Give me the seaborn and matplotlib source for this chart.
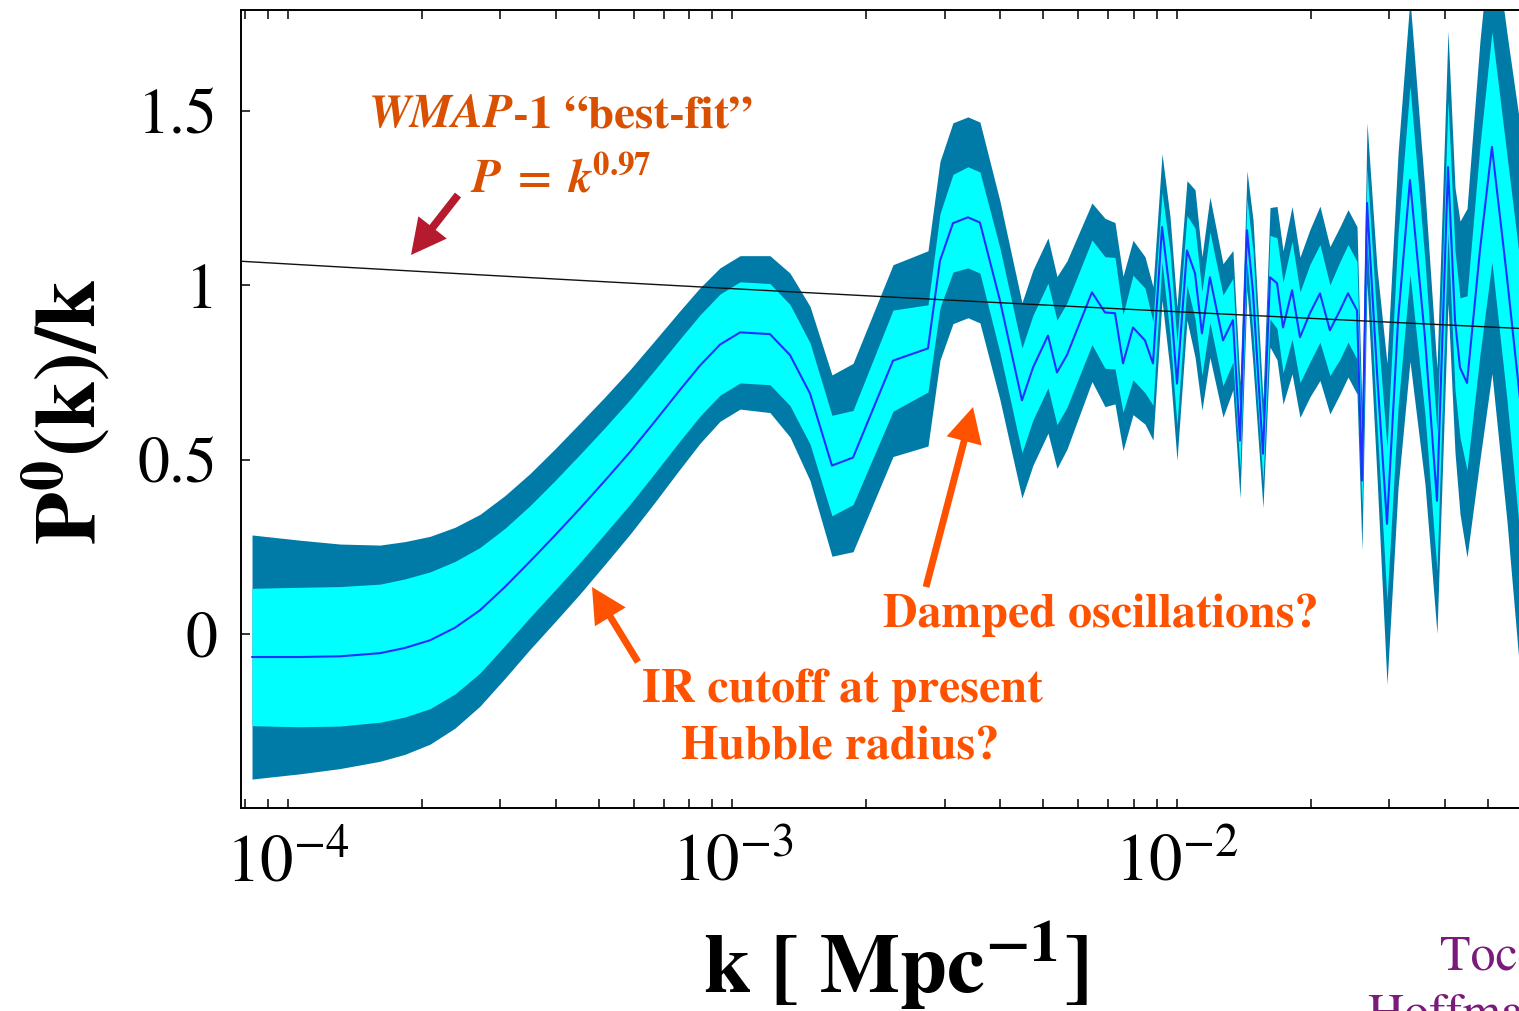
import numpy as np
import matplotlib
matplotlib.use("Agg")
import matplotlib.pyplot as plt
import seaborn as sns
from matplotlib.ticker import LogLocator, LogFormatterMathtext, FixedLocator, FixedFormatter, NullFormatter

# ---------------------------------------------------------------------------
# Reconstructed primordial spectrum P0(k)/k : median and 1-/2-sigma half widths
# ---------------------------------------------------------------------------
k_vals = [
    8.30e-5, 1.064e-4, 1.309e-4, 1.611e-4, 1.833e-4, 2.087e-4, 2.375e-4, 2.703e-4,
    3.077e-4, 3.503e-4, 3.988e-4, 4.538e-4, 5.166e-4, 5.880e-4, 6.692e-4, 7.618e-4,
    8.451e-4, 9.374e-4, 1.040e-3, 1.214e-3, 1.347e-3, 1.494e-3,
    1.674e-3, 1.867e-3, 2.297e-3, 2.753e-3, 2.929e-3, 3.133e-3, 3.386e-3, 3.603e-3,
    3.996e-3, 4.479e-3, 4.742e-3, 5.126e-3, 5.370e-3, 5.655e-3, 6.437e-3, 6.887e-3,
    7.253e-3, 7.560e-3, 7.962e-3, 8.472e-3, 8.830e-3, 9.254e-3, 9.645e-3, 1.000e-2,
    1.053e-2, 1.098e-2, 1.138e-2, 1.186e-2, 1.269e-2, 1.336e-2, 1.386e-2, 1.437e-2,
    1.483e-2, 1.561e-2, 1.619e-2, 1.679e-2, 1.732e-2, 1.815e-2, 1.891e-2, 1.991e-2,
    2.097e-2, 2.208e-2, 2.326e-2, 2.425e-2, 2.541e-2, 2.607e-2, 2.676e-2, 2.818e-2,
    2.968e-2, 3.143e-2, 3.343e-2, 3.613e-2, 3.845e-2, 4.071e-2, 4.221e-2, 4.332e-2,
    4.492e-2, 4.803e-2, 5.111e-2, 5.525e-2, 5.973e-2,
]
median_vals = [
    -0.066, -0.066, -0.064, -0.055, -0.040, -0.018, 0.018, 0.068,
    0.135, 0.208, 0.283, 0.360, 0.440, 0.522, 0.610, 0.700,
    0.770, 0.830, 0.865, 0.860, 0.800, 0.690,
    0.483, 0.506, 0.784, 0.819, 1.070, 1.178, 1.195, 1.180,
    0.957, 0.670, 0.764, 0.856, 0.750, 0.800, 0.980, 0.922,
    0.920, 0.776, 0.879, 0.842, 0.776, 1.167, 0.977, 0.718,
    1.100, 1.034, 0.862, 1.023, 0.842, 0.900, 0.555, 1.158,
    0.977, 0.517, 1.023, 1.006, 0.879, 0.986, 0.851, 0.920,
    0.977, 0.871, 0.928, 0.977, 0.928, 0.440, 1.236, 0.750,
    0.316, 0.900, 1.302, 0.850, 0.382, 1.339, 0.900, 0.764,
    0.720, 1.100, 1.397, 1.023, 0.620,
]
sigma1_vals = [
    0.197, 0.200, 0.200, 0.198, 0.198, 0.196, 0.190, 0.180,
    0.168, 0.160, 0.157, 0.155, 0.152, 0.150, 0.148, 0.146,
    0.145, 0.145, 0.145, 0.145, 0.145, 0.145,
    0.144, 0.135, 0.145, 0.125, 0.135, 0.140, 0.145, 0.145,
    0.150, 0.150, 0.150, 0.150, 0.150, 0.150, 0.150, 0.160,
    0.160, 0.140, 0.150, 0.150, 0.120, 0.100, 0.120, 0.120,
    0.100, 0.130, 0.120, 0.130, 0.130, 0.120, 0.080, 0.090,
    0.120, 0.080, 0.120, 0.130, 0.130, 0.140, 0.130, 0.140,
    0.140, 0.130, 0.140, 0.140, 0.140, 0.080, 0.100, 0.150,
    0.220, 0.250, 0.270, 0.220, 0.200, 0.190, 0.200, 0.200,
    0.250, 0.300, 0.330, 0.350, 0.400,
]
sigma2_vals = [
    0.350, 0.335, 0.322, 0.310, 0.305, 0.298, 0.288, 0.275,
    0.262, 0.252, 0.248, 0.245, 0.240, 0.236, 0.232, 0.227,
    0.223, 0.220, 0.220, 0.225, 0.235, 0.250,
    0.260, 0.270, 0.275, 0.280, 0.285, 0.288, 0.288, 0.288,
    0.285, 0.280, 0.280, 0.280, 0.275, 0.270, 0.256, 0.270,
    0.260, 0.250, 0.250, 0.240, 0.220, 0.210, 0.220, 0.220,
    0.200, 0.240, 0.220, 0.230, 0.220, 0.200, 0.165, 0.170,
    0.210, 0.155, 0.200, 0.220, 0.220, 0.240, 0.230, 0.240,
    0.250, 0.240, 0.240, 0.240, 0.240, 0.200, 0.230, 0.300,
    0.460, 0.480, 0.520, 0.420, 0.380, 0.390, 0.380, 0.420,
    0.500, 0.600, 0.650, 0.700, 0.800,
]

# WMAP-1 best-fit power law  P = A k^n  ->  P/k = A k^(n-1)
fit_index = 0.97
fit_amplitude = 0.805

y_ticks = [0, 0.5, 1, 1.5]
y_tick_labels = ["0", "0.5", "1", "1.5"]

# ---------------------------------------------------------------------------
W, H = 1519, 1011
DARK = "#007BA7"
CYAN = "#00FFFF"
BLUE = "#1E32FF"
ORANGE = "#FF5200"
BURNT = "#D85000"
CRIMSON = "#B51A2E"
PURPLE = "#7A1A7A"

sns.set_theme(style="ticks")
plt.rcParams["font.family"] = ["STIXGeneral", "DejaVu Serif"]
plt.rcParams["mathtext.fontset"] = "stix"

k = np.array(k_vals)
med = np.array(median_vals)
s1 = np.array(sigma1_vals)
s2 = np.array(sigma2_vals)

fig = plt.figure(figsize=(W / 100, H / 100), dpi=100)
ax = fig.add_axes([241 / W, (H - 808) / H, (1525 - 241) / W, 798 / H])

x_lo = 10 ** -4.1057
x_hi = 10 ** (-4 + (1525 - 288) / 444.5)

ax.fill_between(k, med - s2, med + s2, color=DARK, lw=0, zorder=1)
ax.fill_between(k, med - s1, med + s1, color=CYAN, lw=0, zorder=2)
sns.lineplot(x=k, y=med, ax=ax, color=BLUE, lw=1.5, estimator=None, zorder=3)

k_fit = np.geomspace(x_lo, x_hi, 60)
sns.lineplot(x=k_fit, y=fit_amplitude * k_fit ** (fit_index - 1), ax=ax,
             color="#111111", lw=1.0, estimator=None, zorder=4)

ax.set_xscale("log")
ax.set_xlim(x_lo, x_hi)
ax.set_ylim((634 - 808) / 348.7, (634 - 10) / 348.7)

ax.xaxis.set_major_locator(LogLocator(base=10, numticks=10))
ax.xaxis.set_major_formatter(LogFormatterMathtext())
ax.xaxis.set_minor_locator(LogLocator(base=10, subs=np.arange(2, 10), numticks=20))
ax.xaxis.set_minor_formatter(NullFormatter())
ax.yaxis.set_major_locator(FixedLocator(y_ticks))
ax.yaxis.set_major_formatter(FixedFormatter(y_tick_labels))

ax.tick_params(axis="x", which="both", direction="in", top=True, bottom=True,
               length=6.5, width=1.1, color="black")
ax.tick_params(axis="x", which="major", labelsize=48, pad=19, labelcolor="black")
ax.tick_params(axis="y", which="both", direction="in", left=True, right=False,
               length=6.5, width=1.1, labelsize=46, pad=17, color="black", labelcolor="black")

for side in ["left", "bottom", "top"]:
    ax.spines[side].set_linewidth(1.4)
    ax.spines[side].set_color("black")
ax.spines["right"].set_visible(False)
ax.set_xlabel("")
ax.set_ylabel("")
ax.grid(False)


def fx(x):
    return x / W


def fy(y):
    return 1 - y / H


# axis titles
fig.text(fx(68), fy(412), r"$\mathbf{P^{0}(k)/k}$", rotation=90,
         ha="center", va="center", fontsize=62, color="black")
fig.text(fx(895), fy(966), r"$\mathbf{k\ [\ Mpc^{-1}]}$",
         ha="center", va="center", fontsize=61, color="black")

# best-fit label
fig.text(fx(513), fy(127), "WMAP", ha="right", va="baseline", fontsize=34,
         fontstyle="italic", fontweight="bold", color=BURNT)
fig.text(fx(513), fy(127), "-1 \u201cbest-fit\u201d", ha="left", va="baseline",
         fontsize=34, fontweight="bold", color=BURNT)
fig.text(fx(561), fy(192), r"$\mathbfit{P}\;\mathbf{=}\;\mathbfit{k}^{\mathbf{0.97}}$",
         ha="center", va="baseline", fontsize=34, color=BURNT)

# feature labels
fig.text(fx(1101), fy(627), "Damped oscillations?", ha="center", va="baseline",
         fontsize=34.5, fontweight="bold", color=ORANGE)
fig.text(fx(842), fy(702), "IR cutoff at present", ha="center", va="baseline",
         fontsize=34.5, fontweight="bold", color=ORANGE)
fig.text(fx(840), fy(760), "Hubble radius?", ha="center", va="baseline",
         fontsize=34.5, fontweight="bold", color=ORANGE)

# reference credit
fig.text(fx(1440), fy(970), "Tocchini-Valentini,", ha="left", va="baseline",
         fontsize=36, color=PURPLE)
fig.text(fx(1368), fy(1028), "Hoffman & Silk (2006)", ha="left", va="baseline",
         fontsize=36, color=PURPLE)


def arrow(tail, tip, color, tail_w=0.25):
    ax.annotate("", xy=(tip[0], H - tip[1]), xytext=(tail[0], H - tail[1]),
                xycoords="figure pixels", textcoords="figure pixels",
                arrowprops=dict(arrowstyle=f"simple,head_length=1.26,head_width=1.3,tail_width={tail_w}",
                                color=color, lw=0, shrinkA=0, shrinkB=0,
                                mutation_scale=20),
                zorder=6)


arrow((458, 195), (411, 255), CRIMSON, 0.28)
arrow((926, 587), (973, 407), ORANGE)
arrow((638, 662), (592, 587), ORANGE)

fig.savefig("out.png", dpi=100)
